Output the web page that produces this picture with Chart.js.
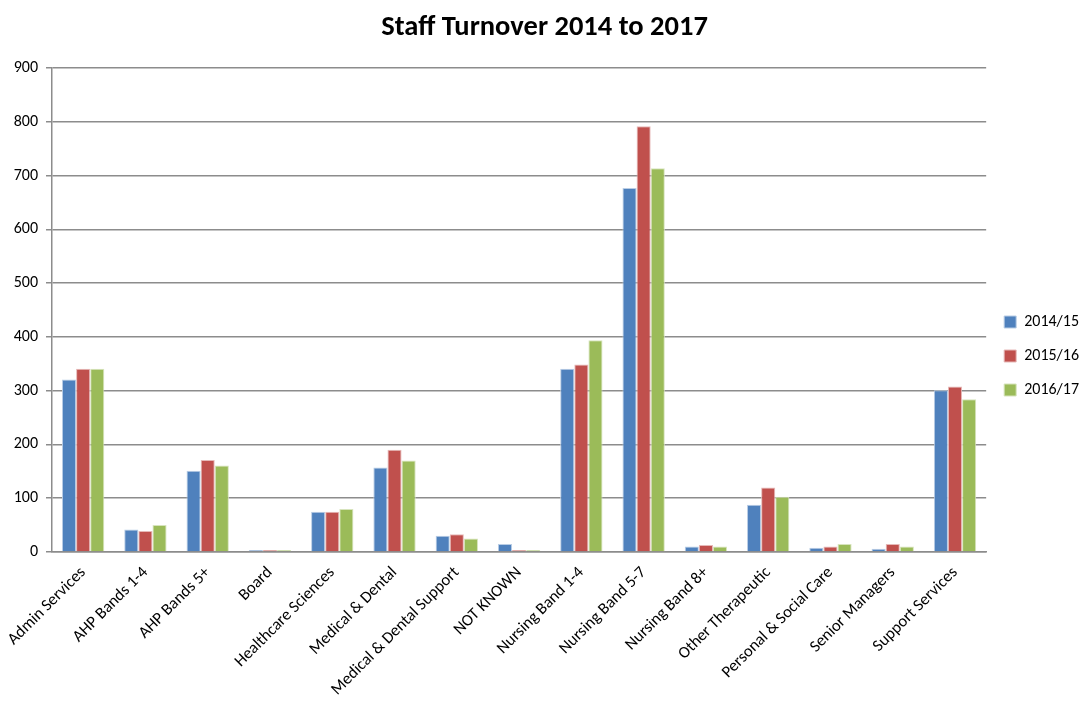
<!DOCTYPE html>
<html lang="en">
	<head>
		<meta charset="utf-8" />
		<title>Staff Turnover 2014 to 2017</title>
		<script src="https://cdn.jsdelivr.net/npm/chart.js"></script>
		<style>
			html, body { margin: 0; padding: 0; background: #ffffff; }
			.graphic { width: 1089px; height: 706px; }
		</style>
	</head>
	<body>
		<div class="graphic">
			<canvas id="myChart" width="1089" height="706"></canvas>
		</div>
		<script>
			const labels = [
				'Admin Services',
				'AHP Bands 1-4',
				'AHP Bands 5+',
				'Board',
				'Healthcare Sciences',
				'Medical & Dental',
				'Medical & Dental Support',
				'NOT KNOWN',
				'Nursing Band 1-4',
				'Nursing Band 5-7',
				'Nursing Band 8+',
				'Other Therapeutic',
				'Personal & Social Care',
				'Senior Managers',
				'Support Services'
			];
			const years = ['2014/15', '2015/16', '2016/17'];
			const values1415 = [321, 42, 151, 3, 75, 157, 30, 15, 341, 677, 10, 88, 8, 6, 301];
			const values1516 = [341, 39, 171, 3, 75, 190, 33, 3, 349, 792, 13, 120, 10, 15, 308];
			const values1617 = [341, 50, 161, 3, 80, 170, 25, 3, 394, 714, 10, 103, 15, 10, 284];
			const yTicks = [0, 100, 200, 300, 400, 500, 600, 700, 800, 900];

			const fontName = "Carlito, Lato, 'Liberation Sans', sans-serif";
			Chart.defaults.font.family = fontName;
			Chart.defaults.color = '#000000';

			const data = {
				labels: labels,
				datasets: [
					{
						label: years[0],
						data: values1415,
						backgroundColor: '#4F81BD',
						borderColor: '#b9cde5',
						borderWidth: 1
					},
					{
						label: years[1],
						data: values1516,
						backgroundColor: '#C0504D',
						borderColor: '#e6b9b8',
						borderWidth: 1
					},
					{
						label: years[2],
						data: values1617,
						backgroundColor: '#9BBB59',
						borderColor: '#d7e4bd',
						borderWidth: 1
					}
				]
			};

			const config = {
				type: 'bar',
				data: data,
				options: {
					responsive: false,
					animation: false,
					layout: { padding: { left: 0, right: 0, top: 6, bottom: 0 } },
					datasets: {
						bar: { categoryPercentage: 0.68, barPercentage: 1.0, minBarLength: 2 }
					},
					plugins: {
						title: {
							display: true,
							text: 'Staff Turnover 2014 to 2017',
							font: { size: 28.5, weight: 'bold' },
							color: '#000000',
							padding: { top: 5, bottom: 23 }
						},
						legend: {
							position: 'right',
							labels: {
								boxWidth: 12,
								boxHeight: 12,
								padding: 18,
								font: { size: 16 }
							}
						},
						tooltip: { enabled: false }
					},
					scales: {
						x: {
							grid: { display: false },
							border: { color: '#8c8c8c', width: 1.5 },
							ticks: {
								minRotation: 45,
								maxRotation: 45,
								autoSkip: false,
								font: { size: 16.5 }
							},
							afterFit: function (scale) { scale.height = 154; }
						},
						y: {
							min: 0,
							max: 900,
							afterBuildTicks: function (scale) {
								scale.ticks = yTicks.map(v => ({ value: v }));
							},
							grid: { color: '#8c8c8c', lineWidth: 1.5, tickLength: 6 },
							border: { color: '#8c8c8c', width: 1.5 },
							ticks: { font: { size: 16 }, padding: 8 },
							afterFit: function (scale) { scale.width = 52; }
						}
					}
				}
			};

			var canvas = document.getElementById('myChart');
			var chart = new Chart(canvas, config);
		</script>
	</body>
</html>
